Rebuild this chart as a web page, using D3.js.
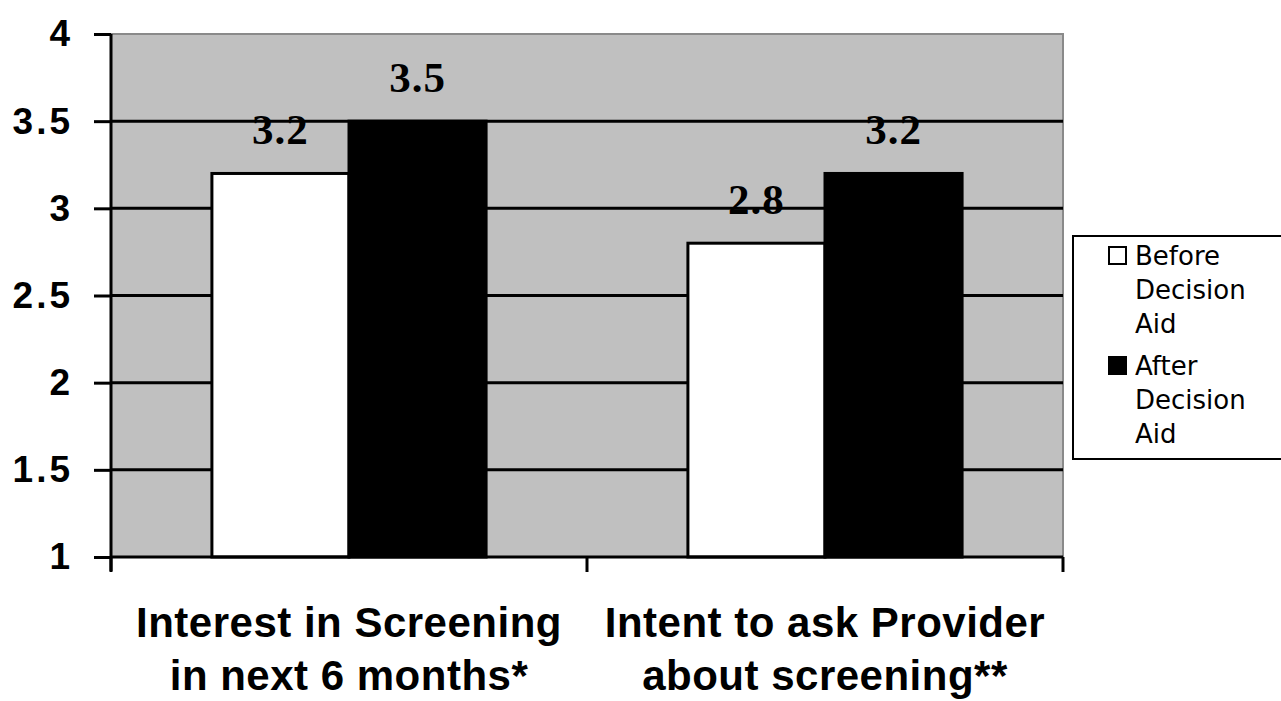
<!DOCTYPE html>
<html>
<head>
<meta charset="utf-8">
<script src="https://cdn.jsdelivr.net/npm/d3@7"></script>
<style>
  html, body { margin: 0; padding: 0; background: #fff; }
  svg { display: block; }
</style>
</head>
<body>
<svg id="chart" width="1281" height="701"></svg>
<script>
// Mean scores before and after the decision aid
const categories = [
  ["Interest in Screening", "in next 6 months*"],
  ["Intent to ask Provider", "about screening**"]
];
const categoryKeys = ["interest", "intent"];
const series = ["Before Decision Aid", "After Decision Aid"];
const seriesLegendLines = [["Before", "Decision", "Aid"], ["After", "Decision", "Aid"]];
const beforeValues = [3.2, 2.8];
const afterValues = [3.5, 3.2];
const yTicks = [1, 1.5, 2, 2.5, 3, 3.5, 4];
const seriesColors = ["#ffffff", "#000000"];

const svg = d3.select("#chart");
const plot = { left: 111, right: 1063, top: 34, bottom: 557 };

const x0 = d3.scaleBand().domain(categoryKeys).range([plot.left, plot.right]).padding(0);
const x1 = d3.scaleBand().domain(series)
  .range([x0.bandwidth() * 0.212, x0.bandwidth() * 0.788]).padding(0);
const y = d3.scaleLinear().domain([1, 4]).range([plot.bottom, plot.top]);

// plot background
svg.append("rect")
  .attr("x", plot.left).attr("y", plot.top)
  .attr("width", plot.right - plot.left).attr("height", plot.bottom - plot.top)
  .attr("fill", "#c0c0c0").attr("stroke", "#8a8a8a").attr("stroke-width", 2);

// horizontal gridlines
svg.append("g").selectAll("line")
  .data(yTicks.filter(t => t > 1 && t < 4))
  .join("line")
  .attr("x1", plot.left).attr("x2", plot.right)
  .attr("y1", d => y(d)).attr("y2", d => y(d))
  .attr("stroke", "#000").attr("stroke-width", 3);

// bars
const rows = categoryKeys.map((k, i) => ({ key: k, values: [beforeValues[i], afterValues[i]] }));
const groups = svg.append("g").selectAll("g")
  .data(rows).join("g")
  .attr("transform", d => `translate(${x0(d.key)},0)`);

groups.selectAll("rect")
  .data(d => d.values.map((v, j) => ({ s: series[j], v, j })))
  .join("rect")
  .attr("x", d => x1(d.s))
  .attr("y", d => y(d.v))
  .attr("width", x1.bandwidth())
  .attr("height", d => y(1) - y(d.v))
  .attr("fill", d => seriesColors[d.j])
  .attr("stroke", "#000").attr("stroke-width", 3);

// value labels
groups.selectAll("text")
  .data(d => d.values.map((v, j) => ({ s: series[j], v })))
  .join("text")
  .attr("x", d => x1(d.s) + x1.bandwidth() / 2)
  .attr("y", d => y(d.v) - 29)
  .attr("text-anchor", "middle")
  .attr("font-family", "'Liberation Serif', 'Times New Roman', serif")
  .attr("font-weight", "bold")
  .attr("font-size", 43)
  .attr("letter-spacing", 1)
  .attr("fill", "#000")
  .text(d => d3.format(".1f")(d.v));

// y axis
const yAxis = d3.axisLeft(y).tickValues(yTicks).tickSize(17).tickPadding(21)
  .tickFormat(d3.format("~g"));
const yg = svg.append("g").attr("transform", `translate(${plot.left},0)`).call(yAxis);
yg.select(".domain").remove();
yg.selectAll(".tick line").attr("stroke", "#000").attr("stroke-width", 3);
yg.selectAll(".tick text")
  .attr("font-family", "'Liberation Sans', Arial, sans-serif")
  .attr("font-weight", "bold")
  .attr("font-size", 37)
  .attr("letter-spacing", 3)
  .attr("fill", "#000");
svg.append("line")
  .attr("x1", plot.left).attr("x2", plot.left)
  .attr("y1", plot.top).attr("y2", plot.bottom + 14)
  .attr("stroke", "#000").attr("stroke-width", 3);

// x axis
svg.append("line")
  .attr("x1", plot.left).attr("x2", plot.right)
  .attr("y1", plot.bottom).attr("y2", plot.bottom)
  .attr("stroke", "#000").attr("stroke-width", 3);
const boundaries = categoryKeys.map(k => x0(k)).concat([x0(categoryKeys[categoryKeys.length - 1]) + x0.bandwidth()]);
svg.append("g").selectAll("line")
  .data(boundaries).join("line")
  .attr("x1", d => d).attr("x2", d => d)
  .attr("y1", plot.bottom).attr("y2", plot.bottom + 15)
  .attr("stroke", "#000").attr("stroke-width", 3);

// category labels
const catLabels = svg.append("g").selectAll("text")
  .data(categoryKeys.map((k, i) => ({ k, lines: categories[i] })))
  .join("text")
  .attr("text-anchor", "middle")
  .attr("font-family", "'Liberation Sans', Arial, sans-serif")
  .attr("font-weight", "bold")
  .attr("font-size", 42)
  .attr("letter-spacing", 0.5)
  .attr("fill", "#000");
catLabels.selectAll("tspan")
  .data(d => d.lines.map((line, i) => ({ line, i, k: d.k })))
  .join("tspan")
  .attr("x", d => x0(d.k) + x0.bandwidth() / 2)
  .attr("y", d => 637 + d.i * 53)
  .text(d => d.line);

// legend
const legend = svg.append("g");
legend.append("rect")
  .attr("x", 1073).attr("y", 236).attr("width", 212).attr("height", 223)
  .attr("fill", "#fff").attr("stroke", "#000").attr("stroke-width", 2);
seriesLegendLines.forEach((lines, i) => {
  const top = 247 + i * 110;
  legend.append("rect")
    .attr("x", 1109).attr("y", top).attr("width", 17).attr("height", 17)
    .attr("fill", seriesColors[i]).attr("stroke", "#000").attr("stroke-width", 2);
  const t = legend.append("text")
    .attr("font-family", "'DejaVu Sans', sans-serif")
    .attr("font-size", 26)
    .attr("fill", "#000");
  t.selectAll("tspan").data(lines).join("tspan")
    .attr("x", 1135)
    .attr("y", (d, j) => top + 18 + j * 34)
    .text(d => d);
});
</script>
</body>
</html>
